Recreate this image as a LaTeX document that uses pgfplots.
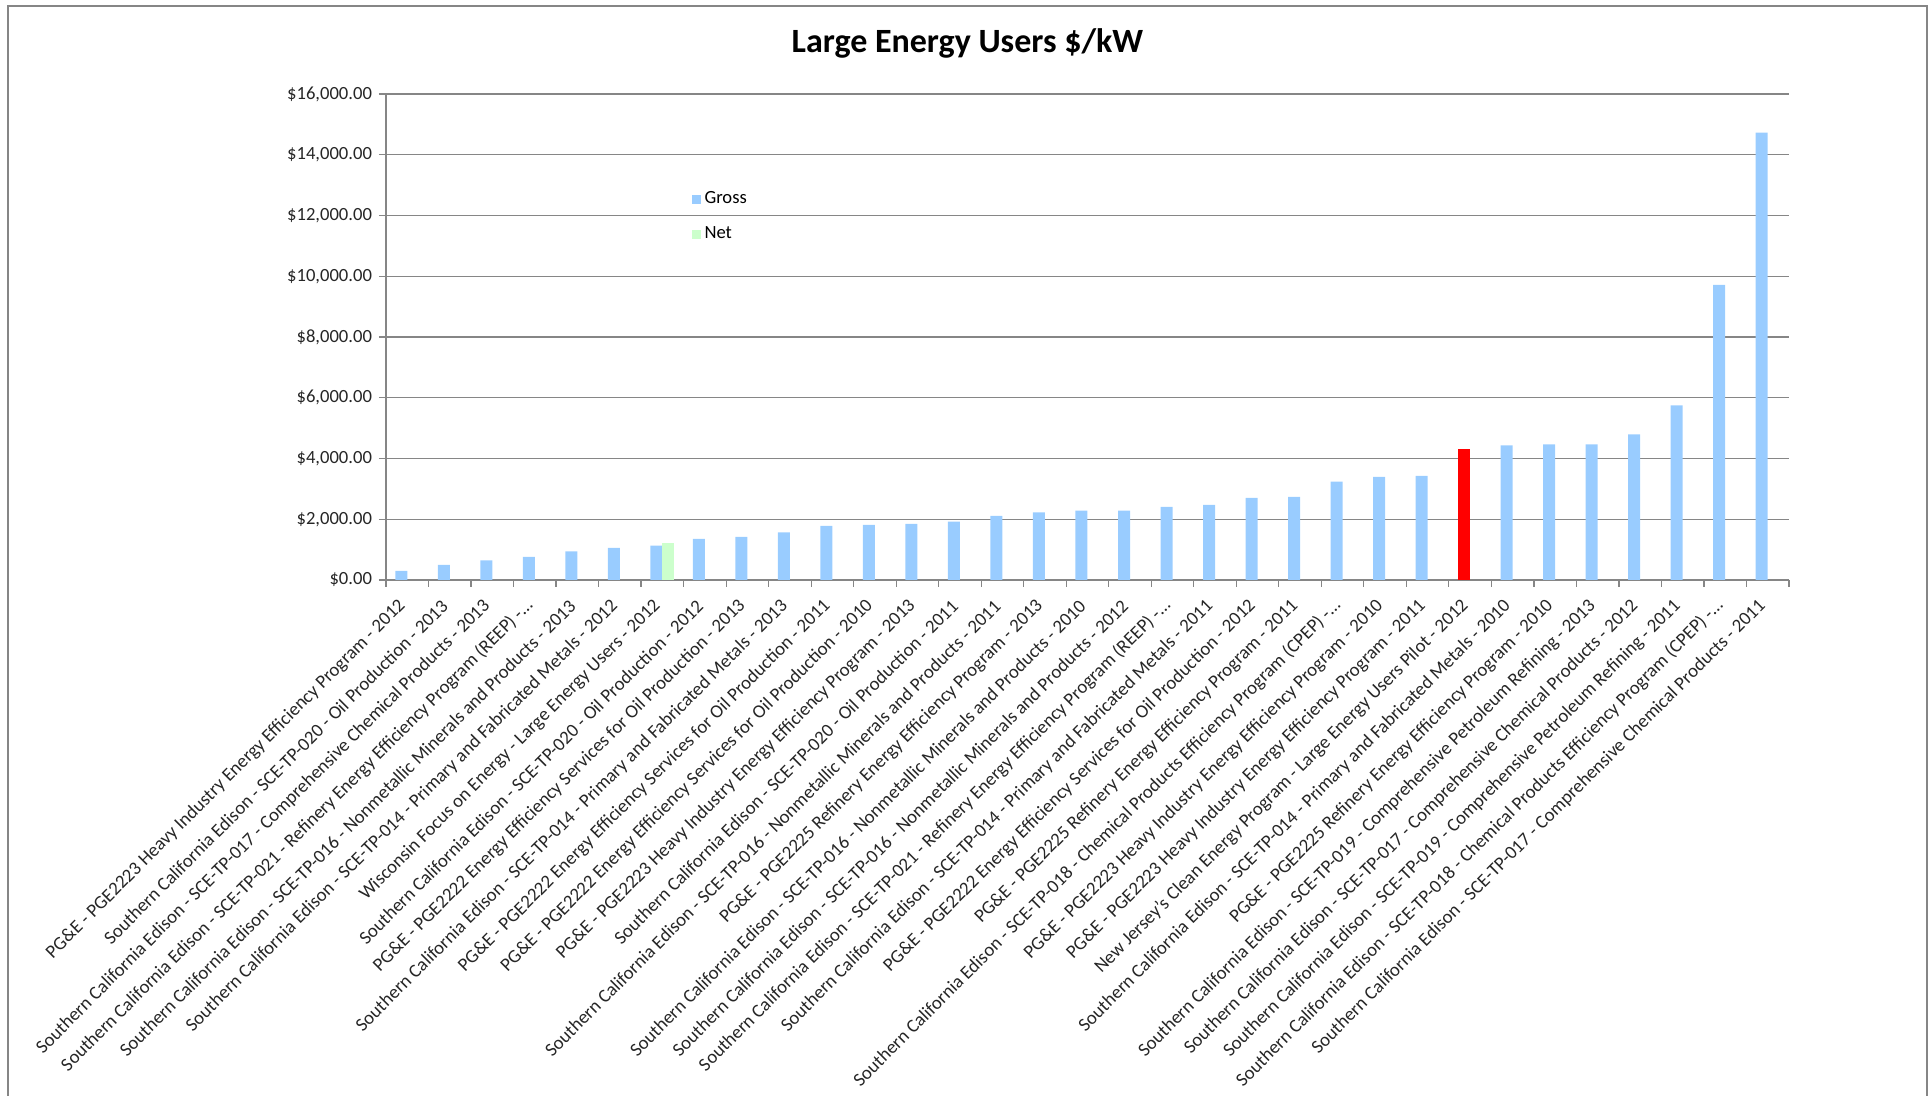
\documentclass[border=0pt]{standalone}
\usepackage{fontspec}
\setmainfont{Carlito}
\usepackage{pgfplots}
\pgfplotsset{compat=1.18}
\definecolor{gross}{HTML}{99CCFF}
\definecolor{net}{HTML}{CCFFCC}
\definecolor{axgray}{HTML}{868686}
\pgfplotsset{sqlegend/.style={legend image code/.code={\fill[##1] (0pt,-2.25pt) rectangle (4.5pt,2.25pt);}}}
\begin{document}
\begin{tikzpicture}
\useasboundingbox (-193pt,-258pt) rectangle (771.5pt,290pt);
% chart area border (bottom edge is cut off in the original)
\draw[axgray, line width=1pt] (-189pt,-262pt) -- (-189pt,287pt) -- (770.5pt,287pt) -- (770.5pt,-262pt);
\node[font=\fontsize{17}{20}\selectfont\bfseries] at (290.75pt,268.5pt) {Large Energy Users \$/kW};
\begin{axis}[
    at={(0pt,0pt)}, anchor=south west,
    scale only axis, width=701.5pt, height=243pt,
    xmin=0.5, xmax=33.5, ymin=0, ymax=16000,
    axis lines*=left,
    axis line style={axgray, line width=0.6pt},
    tick style={axgray, line width=0.6pt},
    tick align=outside, major tick length=3.5pt,
    ybar, bar width=6pt,
    ymajorgrids, grid style={axgray, line width=0.6pt},
    scaled y ticks=false,
    ytick={0,2000,...,16000},
    yticklabels={{\$0.00},{\$2,000.00},{\$4,000.00},{\$6,000.00},{\$8,000.00},{\$10,000.00},{\$12,000.00},{\$14,000.00},{\$16,000.00}},
    yticklabel style={font=\fontsize{9.3}{11}\selectfont, color=black!85},
    xtick={0.5,1.5,...,33.5}, xticklabels={},
    extra x ticks={1,...,33},
    extra x tick style={major tick length=0pt},
    extra x tick labels={
        PG\&E - PGE2223 Heavy Industry Energy Efficiency Program - 2012,
        Southern California Edison - SCE-TP-020 - Oil Production - 2013,
        Southern California Edison - SCE-TP-017 - Comprehensive Chemical Products - 2013,
        Southern California Edison - SCE-TP-021 - Refinery Energy Efficiency Program (REEP) -\ldots,
        Southern California Edison - SCE-TP-016 - Nonmetallic Minerals and Products - 2013,
        Southern California Edison - SCE-TP-014 - Primary and Fabricated Metals - 2012,
        Wisconsin Focus on Energy - Large Energy Users - 2012,
        Southern California Edison - SCE-TP-020 - Oil Production - 2012,
        PG\&E - PGE2222 Energy Efficiency Services for Oil Production - 2013,
        Southern California Edison - SCE-TP-014 - Primary and Fabricated Metals - 2013,
        PG\&E - PGE2222 Energy Efficiency Services for Oil Production - 2011,
        PG\&E - PGE2222 Energy Efficiency Services for Oil Production - 2010,
        PG\&E - PGE2223 Heavy Industry Energy Efficiency Program - 2013,
        Southern California Edison - SCE-TP-020 - Oil Production - 2011,
        Southern California Edison - SCE-TP-016 - Nonmetallic Minerals and Products - 2011,
        PG\&E - PGE2225 Refinery Energy Efficiency Program - 2013,
        Southern California Edison - SCE-TP-016 - Nonmetallic Minerals and Products - 2010,
        Southern California Edison - SCE-TP-016 - Nonmetallic Minerals and Products - 2012,
        Southern California Edison - SCE-TP-021 - Refinery Energy Efficiency Program (REEP) -\ldots,
        Southern California Edison - SCE-TP-014 - Primary and Fabricated Metals - 2011,
        PG\&E - PGE2222 Energy Efficiency Services for Oil Production - 2012,
        PG\&E - PGE2225 Refinery Energy Efficiency Program - 2011,
        Southern California Edison - SCE-TP-018 - Chemical Products Efficiency Program (CPEP) -\ldots,
        PG\&E - PGE2223 Heavy Industry Energy Efficiency Program - 2010,
        PG\&E - PGE2223 Heavy Industry Energy Efficiency Program - 2011,
        New Jersey's Clean Energy Program - Large Energy Users Pilot - 2012,
        Southern California Edison - SCE-TP-014 - Primary and Fabricated Metals - 2010,
        PG\&E - PGE2225 Refinery Energy Efficiency Program - 2010,
        Southern California Edison - SCE-TP-019 - Comprehensive Petroleum Refining - 2013,
        Southern California Edison - SCE-TP-017 - Comprehensive Chemical Products - 2012,
        Southern California Edison - SCE-TP-019 - Comprehensive Petroleum Refining - 2011,
        Southern California Edison - SCE-TP-018 - Chemical Products Efficiency Program (CPEP) -\ldots,
        Southern California Edison - SCE-TP-017 - Comprehensive Chemical Products - 2011},
    xticklabel shift=9pt,
    xticklabel style={font=\fontsize{9.4}{11}\selectfont, rotate=45, anchor=east, color=black!85},
    legend style={draw=none, fill=none, at={(0.2175,0.748)}, anchor=west,
        font=\fontsize{9.3}{11}\selectfont, row sep=6pt, inner sep=0pt},
    legend cell align=left,
]
\addplot[fill=gross, draw=none, bar shift=-3pt, sqlegend]
coordinates {
    (1,297) (2,495) (3,648) (4,758) (5,945) (6,1055) (7,1132) (8,1352)
    (9,1418) (10,1571) (11,1780) (12,1813) (13,1846) (14,1923) (15,2108)
    (16,2228) (17,2283) (18,2283) (19,2404) (20,2470) (21,2700) (22,2733)
    (23,3238) (24,3392) (25,3425) (27,4435) (28,4468) (29,4468) (30,4797)
    (31,5752) (32,9714) (33,14731)
};
\addlegendentry{Gross}
\addplot[fill=net, draw=none, bar shift=3pt, sqlegend] coordinates {(7,1220)};
\addlegendentry{Net}
% highlighted Gross bar
\addplot[fill=red, draw=none, bar shift=-3pt, forget plot] coordinates {(26,4303)};
\end{axis}
\end{tikzpicture}
\end{document}
